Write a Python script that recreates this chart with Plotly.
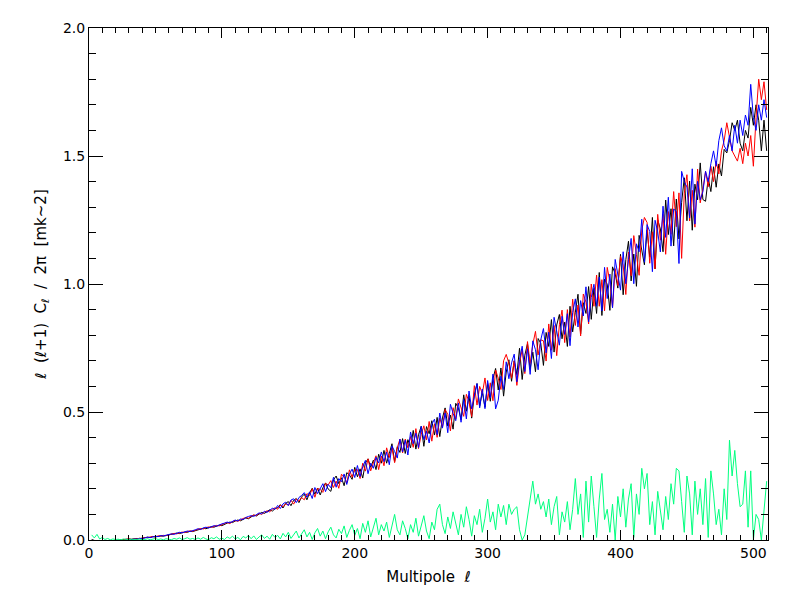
import plotly.graph_objects as go

# multipole index (every second multipole from 2 to 510)
ell = list(range(2, 512, 2))

black = [
    0.002, -0.003, -0.005, -0.004, -0.006, -0.005, -0.004, -0.005, -0.003, -0.002,
    0.000, 0.002, 0.001, 0.003, 0.004, 0.003, 0.005, 0.006, 0.005, 0.007,
    0.009, 0.011, 0.010, 0.013, 0.012, 0.015, 0.016, 0.015, 0.018, 0.020,
    0.022, 0.024, 0.027, 0.025, 0.029, 0.031, 0.030, 0.034, 0.033, 0.037,
    0.040, 0.043, 0.046, 0.044, 0.049, 0.052, 0.050, 0.055, 0.058, 0.056,
    0.062, 0.066, 0.070, 0.068, 0.074, 0.078, 0.075, 0.082, 0.086, 0.083,
    0.090, 0.097, 0.094, 0.102, 0.108, 0.104, 0.112, 0.118, 0.113, 0.122,
    0.126, 0.138, 0.125, 0.143, 0.150, 0.134, 0.155, 0.162, 0.146, 0.168,
    0.179, 0.157, 0.184, 0.202, 0.179, 0.203, 0.176, 0.204, 0.223, 0.199,
    0.190, 0.235, 0.250, 0.220, 0.243, 0.212, 0.263, 0.254, 0.237, 0.284,
    0.247, 0.278, 0.242, 0.301, 0.317, 0.284, 0.312, 0.275, 0.335, 0.300,
    0.350, 0.300, 0.338, 0.376, 0.306, 0.364, 0.342, 0.396, 0.338, 0.392,
    0.360, 0.428, 0.355, 0.411, 0.444, 0.366, 0.443, 0.415, 0.466, 0.410,
    0.479, 0.404, 0.477, 0.516, 0.445, 0.488, 0.433, 0.534, 0.515, 0.470,
    0.567, 0.503, 0.564, 0.476, 0.567, 0.611, 0.522, 0.578, 0.519, 0.611,
    0.542, 0.630, 0.670, 0.586, 0.672, 0.562, 0.656, 0.704, 0.620, 0.700,
    0.646, 0.749, 0.627, 0.722, 0.767, 0.667, 0.734, 0.657, 0.787, 0.768,
    0.682, 0.811, 0.756, 0.861, 0.734, 0.840, 0.881, 0.786, 0.851, 0.756,
    0.913, 0.813, 0.890, 0.960, 0.805, 0.927, 0.885, 0.990, 0.862, 0.983,
    0.885, 1.045, 0.877, 1.019, 0.999, 0.897, 1.067, 1.040, 0.984, 1.116,
    0.958, 1.095, 1.167, 1.012, 1.117, 0.991, 1.190, 1.137, 1.075, 1.210,
    1.105, 1.260, 1.059, 1.250, 1.215, 1.126, 1.328, 1.193, 1.294, 1.149,
    1.332, 1.176, 1.319, 1.415, 1.247, 1.402, 1.210, 1.390, 1.329, 1.473,
    1.330, 1.323, 1.413, 1.361, 1.458, 1.378, 1.469, 1.422, 1.526, 1.512,
    1.560, 1.630, 1.600, 1.640, 1.550, 1.520, 1.600, 1.570, 1.690, 1.620,
    1.700, 1.640, 1.520, 1.640, 1.520,
]

red = [
    -0.006, -0.004, -0.007, -0.005, -0.006, -0.004, -0.005, -0.006, -0.004, -0.003,
    -0.002, 0.001, 0.000, 0.002, 0.004, 0.002, 0.005, 0.004, 0.007, 0.006,
    0.010, 0.009, 0.012, 0.014, 0.012, 0.016, 0.015, 0.018, 0.017, 0.021,
    0.023, 0.026, 0.024, 0.028, 0.031, 0.029, 0.033, 0.036, 0.034, 0.039,
    0.042, 0.045, 0.043, 0.048, 0.051, 0.049, 0.054, 0.057, 0.055, 0.061,
    0.065, 0.068, 0.064, 0.072, 0.076, 0.073, 0.080, 0.084, 0.088, 0.085,
    0.093, 0.098, 0.095, 0.104, 0.100, 0.109, 0.114, 0.110, 0.120, 0.126,
    0.120, 0.136, 0.130, 0.141, 0.137, 0.155, 0.140, 0.160, 0.152, 0.166,
    0.157, 0.181, 0.174, 0.200, 0.167, 0.201, 0.198, 0.186, 0.221, 0.215,
    0.232, 0.205, 0.230, 0.202, 0.257, 0.246, 0.223, 0.274, 0.245, 0.274,
    0.275, 0.240, 0.300, 0.269, 0.317, 0.270, 0.302, 0.329, 0.275, 0.328,
    0.290, 0.360, 0.322, 0.360, 0.302, 0.360, 0.394, 0.340, 0.394, 0.360,
    0.404, 0.362, 0.435, 0.357, 0.412, 0.446, 0.391, 0.463, 0.386, 0.454,
    0.401, 0.476, 0.441, 0.510, 0.491, 0.426, 0.517, 0.472, 0.551, 0.516,
    0.483, 0.569, 0.540, 0.482, 0.603, 0.527, 0.600, 0.572, 0.633, 0.545,
    0.614, 0.544, 0.664, 0.632, 0.588, 0.700, 0.725, 0.690, 0.632, 0.700,
    0.604, 0.691, 0.743, 0.650, 0.775, 0.689, 0.764, 0.815, 0.723, 0.782,
    0.778, 0.699, 0.844, 0.741, 0.838, 0.720, 0.841, 0.898, 0.771, 0.900,
    0.793, 0.941, 0.838, 0.918, 0.797, 0.961, 0.929, 0.844, 1.000, 0.913,
    1.035, 0.913, 1.017, 0.895, 1.065, 1.009, 0.907, 1.060, 0.994, 1.108,
    1.074, 0.959, 1.125, 1.032, 1.189, 1.115, 1.034, 1.211, 1.260, 1.240,
    1.081, 1.204, 1.059, 1.272, 1.171, 1.272, 1.116, 1.283, 1.194, 1.361,
    1.224, 1.356, 1.100, 1.355, 1.427, 1.246, 1.366, 1.222, 1.449, 1.317,
    1.370, 1.440, 1.380, 1.460, 1.400, 1.480, 1.430, 1.520, 1.560, 1.630,
    1.580, 1.520, 1.500, 1.480, 1.530, 1.470, 1.550, 1.500, 1.580, 1.460,
    1.650, 1.800, 1.720, 1.790, 1.680,
]

blue = [
    -0.008, -0.009, -0.010, -0.009, -0.010, -0.008, -0.009, -0.008, -0.007, -0.006,
    -0.004, -0.002, -0.003, 0.000, 0.002, 0.001, 0.004, 0.003, 0.006, 0.005,
    0.008, 0.011, 0.009, 0.013, 0.015, 0.013, 0.017, 0.016, 0.019, 0.022,
    0.024, 0.022, 0.027, 0.030, 0.028, 0.032, 0.035, 0.033, 0.038, 0.040,
    0.044, 0.041, 0.047, 0.050, 0.047, 0.053, 0.056, 0.054, 0.060, 0.063,
    0.066, 0.070, 0.067, 0.074, 0.078, 0.074, 0.082, 0.080, 0.088, 0.092,
    0.095, 0.092, 0.100, 0.106, 0.102, 0.112, 0.108, 0.118, 0.124, 0.120,
    0.135, 0.123, 0.141, 0.148, 0.134, 0.156, 0.161, 0.146, 0.166, 0.174,
    0.185, 0.167, 0.188, 0.162, 0.205, 0.181, 0.202, 0.220, 0.189, 0.217,
    0.204, 0.245, 0.206, 0.240, 0.227, 0.258, 0.217, 0.258, 0.277, 0.244,
    0.291, 0.248, 0.286, 0.311, 0.259, 0.300, 0.280, 0.323, 0.301, 0.344,
    0.306, 0.344, 0.294, 0.368, 0.346, 0.320, 0.394, 0.344, 0.390, 0.332,
    0.422, 0.376, 0.417, 0.361, 0.444, 0.392, 0.425, 0.379, 0.452, 0.472,
    0.411, 0.496, 0.437, 0.496, 0.419, 0.530, 0.495, 0.466, 0.535, 0.460,
    0.549, 0.473, 0.582, 0.512, 0.561, 0.611, 0.516, 0.590, 0.513, 0.623,
    0.556, 0.648, 0.512, 0.546, 0.640, 0.588, 0.696, 0.630, 0.692, 0.726,
    0.618, 0.705, 0.757, 0.658, 0.747, 0.647, 0.778, 0.743, 0.665, 0.782,
    0.826, 0.731, 0.812, 0.709, 0.870, 0.816, 0.761, 0.874, 0.803, 0.884,
    0.759, 0.889, 0.942, 0.832, 0.935, 0.875, 0.989, 0.852, 0.948, 0.999,
    0.913, 1.027, 0.895, 1.065, 0.943, 1.039, 0.907, 1.096, 1.032, 0.976,
    1.126, 1.001, 1.095, 1.178, 1.001, 1.157, 1.126, 1.253, 1.085, 1.232,
    1.205, 1.048, 1.249, 1.204, 1.125, 1.304, 1.182, 1.339, 1.148, 1.293,
    1.284, 1.080, 1.440, 1.400, 1.379, 1.258, 1.450, 1.234, 1.401, 1.329,
    1.360, 1.440, 1.400, 1.470, 1.520, 1.460, 1.560, 1.610, 1.540, 1.520,
    1.580, 1.520, 1.620, 1.550, 1.640, 1.580, 1.660, 1.620, 1.780, 1.650,
    1.600, 1.700, 1.640, 1.720, 1.650,
]

green = [
    0.020, 0.008, 0.022, 0.004, 0.010, 0.002, 0.006, 0.001, 0.004, 0.002,
    0.003, 0.001, 0.004, 0.002, 0.001, 0.003, 0.001, 0.002, 0.004, 0.001,
    0.002, 0.005, 0.001, 0.003, 0.006, 0.002, 0.004, 0.001, 0.005, 0.003,
    0.001, 0.006, 0.003, 0.008, 0.002, 0.005, 0.009, 0.003, 0.006, 0.002,
    0.008, 0.003, 0.010, 0.004, 0.001, 0.009, 0.005, 0.012, 0.003, 0.007,
    0.002, 0.012, 0.006, 0.015, 0.004, 0.010, 0.001, 0.014, 0.008, 0.018,
    0.005, 0.016, 0.002, 0.012, 0.020, 0.006, 0.015, 0.003, 0.022, 0.010,
    0.018, 0.004, 0.026, 0.012, 0.030, 0.006, 0.020, 0.035, 0.008, 0.025,
    0.040, 0.012, 0.030, 0.002, 0.028, 0.045, 0.015, 0.035, 0.005, 0.032,
    0.050, 0.020, 0.008, 0.042, 0.025, 0.055, 0.010, 0.038, 0.060, 0.018,
    0.045, 0.005, 0.065, 0.030, 0.075, 0.012, 0.050, 0.085, 0.020, 0.060,
    0.035, 0.070, 0.010, 0.055, 0.100, 0.040, 0.020, 0.075, 0.045, 0.005,
    0.060, 0.030, 0.085, 0.015, 0.050, 0.095, 0.035, 0.005, 0.070, 0.040,
    0.120, 0.140, 0.060, 0.025, 0.090, 0.045, 0.110, 0.070, 0.020, 0.100,
    0.050, 0.130, 0.080, 0.015, 0.095, 0.060, 0.120, 0.030, 0.085, 0.160,
    0.070, 0.110, 0.040, 0.140, 0.090, 0.135, 0.060, 0.140, 0.100, 0.120,
    0.130, 0.040, 0.000, 0.020, 0.090, 0.150, 0.230, 0.140, 0.180, 0.120,
    0.150, 0.090, 0.160, 0.060, 0.130, 0.170, 0.020, 0.110, 0.070, 0.150,
    0.040, 0.120, 0.240, 0.100, 0.180, 0.010, 0.230, 0.070, 0.250, 0.130,
    0.010, 0.160, 0.260, 0.080, 0.120, 0.030, 0.140, 0.000, 0.170, 0.090,
    0.200, 0.050, 0.160, 0.220, 0.010, 0.180, 0.100, 0.280, 0.200, 0.260,
    0.060, 0.150, 0.020, 0.190, 0.110, 0.040, 0.170, 0.080, 0.220, 0.140,
    0.280, 0.270, 0.150, 0.030, 0.250, 0.180, 0.020, 0.230, 0.100, 0.200,
    0.060, 0.240, 0.010, 0.270, 0.180, 0.060, 0.120, 0.020, 0.200, 0.080,
    0.390, 0.250, 0.350, 0.220, 0.130, 0.140, 0.270, 0.050, 0.270, 0.000,
    0.100, 0.080, 0.000, 0.120, 0.230,
]

x_ticks = [0, 100, 200, 300, 400, 500]
y_ticks = [0.0, 0.5, 1.0, 1.5, 2.0]

FONT = "DejaVu Sans"

fig = go.Figure()
for vals, col in [(black, "#000000"), (red, "#ff0000"), (blue, "#0000ff"), (green, "#00ff7f")]:
    fig.add_trace(go.Scatter(x=ell, y=vals, mode="lines",
                             line=dict(color=col, width=1), showlegend=False,
                             hoverinfo="skip"))

axis_common = dict(showline=True, linecolor="black", linewidth=1, mirror="allticks",
                   ticks="inside", tickcolor="black", showgrid=False, zeroline=False,
                   automargin=False,
                   tickfont=dict(family=FONT, size=14, color="black"))

fig.update_xaxes(range=[0, 511], tickvals=x_ticks, ticktext=[str(v) for v in x_ticks],
                 ticklen=10,
                 minor=dict(dtick=10, tick0=0, ticklen=5, ticks="inside", tickcolor="black"),
                 title=dict(text="Multipole  <i>ℓ</i>", font=dict(family=FONT, size=15, color="black"),
                            standoff=11),
                 **axis_common)
fig.update_yaxes(range=[0, 2.0], tickvals=y_ticks, ticktext=[f"{v:.1f}" for v in y_ticks],
                 ticklen=14,
                 minor=dict(dtick=0.1, tick0=0, ticklen=7, ticks="inside", tickcolor="black"),
                 title=dict(text="<i>ℓ</i>  (<i>ℓ</i>+1)  C<sub><i>ℓ</i></sub>  /  2π  [mk~2]",
                            font=dict(family=FONT, size=15, color="black"), standoff=12),
                 **axis_common)

# the page adds an 8 px body margin, so the figure is sized to sit inside the window
fig.update_layout(width=788, height=589, plot_bgcolor="white", paper_bgcolor="white",
                  margin=dict(l=81, r=28, t=20, b=57))

fig.write_html("out.html")
